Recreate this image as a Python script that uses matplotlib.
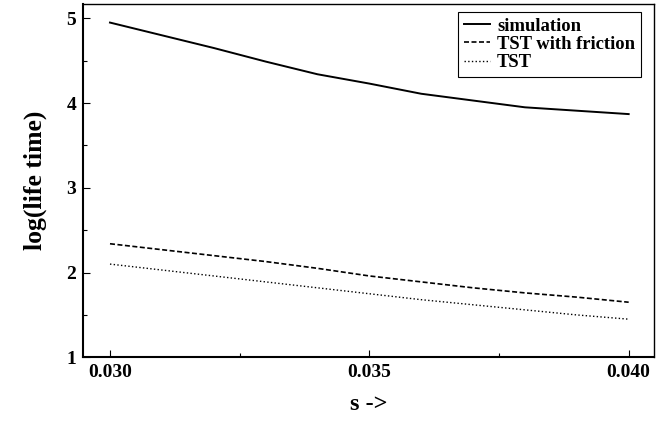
import matplotlib
matplotlib.use('Agg')
import matplotlib.pyplot as plt
from matplotlib.ticker import MultipleLocator, FormatStrFormatter

# values
s = [0.030, 0.031, 0.032, 0.033, 0.034, 0.035, 0.036, 0.037, 0.038, 0.039, 0.040]
simulation = [4.95, 4.80, 4.65, 4.49, 4.34, 4.23, 4.11, 4.03, 3.95, 3.91, 3.87]
tst_friction = [2.34, 2.27, 2.20, 2.13, 2.05, 1.96, 1.89, 1.82, 1.76, 1.71, 1.65]
tst = [2.10, 2.03, 1.96, 1.89, 1.82, 1.75, 1.68, 1.62, 1.56, 1.50, 1.45]

plt.rcParams['font.family'] = 'serif'
plt.rcParams['font.serif'] = ['Liberation Serif']
plt.rcParams['font.weight'] = 'bold'
plt.rcParams['axes.labelweight'] = 'bold'

fig = plt.figure(figsize=(6.7, 4.22), dpi=100)
ax = fig.add_axes([0.1243, 0.1533, 0.8518, 0.8372])

ax.plot(s, simulation, color='black', linestyle='-', linewidth=1.4, label='simulation')
ax.plot(s, tst_friction, color='black', linestyle='--', dashes=(3, 1.5), linewidth=1.2, label='TST with friction')
ax.plot(s, tst, color='black', linestyle=':', linewidth=1.0, label='TST')

ax.set_xlim(0.029485, 0.040488)
ax.set_ylim(1, 5.169)
ax.xaxis.set_major_locator(MultipleLocator(0.005))
ax.xaxis.set_minor_locator(MultipleLocator(0.0025))
ax.xaxis.set_major_formatter(FormatStrFormatter('%.3f'))
ax.yaxis.set_major_locator(MultipleLocator(1))
ax.yaxis.set_minor_locator(MultipleLocator(0.5))
ax.tick_params(which='both', direction='in', width=0.8, labelsize=14, pad=5)
ax.tick_params(which='major', length=5)
ax.tick_params(which='minor', length=3)
for sp in ax.spines.values():
    sp.set_linewidth(1.0)
ax.spines['bottom'].set_linewidth(1.5)
ax.spines['left'].set_linewidth(1.5)

ax.set_xlabel('s ->', fontsize=17.5, labelpad=9)
ax.set_ylabel('log(life time)', fontsize=18.5, labelpad=14)

leg = ax.legend(loc='upper right', fontsize=13.4, fancybox=False, framealpha=1,
                edgecolor='black', handlelength=1.4, handletextpad=0.35,
                labelspacing=0.06, borderpad=0.32, borderaxespad=0,
                bbox_to_anchor=(0.977, 0.978))
leg.get_frame().set_linewidth(0.8)

fig.savefig('out.png', dpi=100)
